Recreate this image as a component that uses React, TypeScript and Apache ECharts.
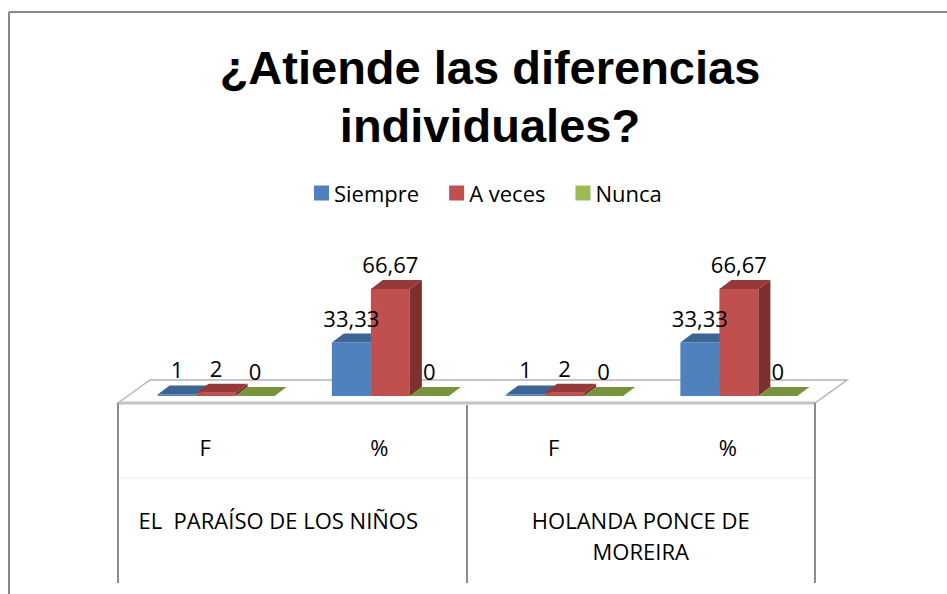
import React, { useEffect, useRef } from "react";
import * as echarts from "echarts";

const titleText = "¿Atiende las diferencias\nindividuales?";
const categories = ["F", "%", "F", "%"];
const groups = ["EL  PARAÍSO DE LOS NIÑOS", "HOLANDA PONCE DE\nMOREIRA"];
const seriesNames = ["Siempre", "A veces", "Nunca"];
const siempre = [1, 33.33, 1, 33.33];
const aVeces = [2, 66.67, 2, 66.67];
const nunca = [0, 0, 0, 0];

const palette = [
  { front: "#4F81BD", top: "#3C6594", side: "#355A86" },
  { front: "#C0504D", top: "#953A38", side: "#7D302E" },
  { front: "#9BBB59", top: "#77933C", side: "#6A8535" },
];

const FONT = "'Open Sans', 'Noto Sans', sans-serif";
const BAR_W = 39;
const DX = 12;
const DY = 9;
const SHIFT = 11;

function fmt(v: number) {
  return String(v).replace(".", ",");
}

export default function App() {
  const ref = useRef<HTMLDivElement>(null);
  useEffect(() => {
    if (!ref.current) return;
    const chart = echarts.init(ref.current, null, { renderer: "svg" });
    const seriesData = [siempre, aVeces, nunca];
    const series = seriesData.map((vals, si) => ({
      type: "custom",
      name: seriesNames[si],
      z: 5,
      clip: false,
      itemStyle: { color: palette[si].front },
      encode: { x: 0, y: 1 },
      data: vals.map((v, i) => [i, v]),
      renderItem: (params: any, api: any) => {
        const cat = api.value(0);
        const val = api.value(1);
        const base = api.coord([cat, 0]);
        const topP = api.coord([cat, val]);
        const c = palette[si];
        const x0 = base[0] + SHIFT - 1.5 * BAR_W + si * BAR_W;
        const x1 = x0 + BAR_W;
        const yb = base[1];
        const yt = topP[1];
        const children: any[] = [];
        if (yb - yt > 0.01) {
          children.push({
            type: "rect",
            z2: si * 3,
            shape: { x: x0, y: yt, width: BAR_W, height: yb - yt },
            style: { fill: c.front },
          });
          children.push({
            type: "polygon",
            z2: si * 3 + 1,
            shape: {
              points: [
                [x1, yb],
                [x1 + DX, yb - DY],
                [x1 + DX, yt - DY],
                [x1, yt],
              ],
            },
            style: { fill: c.side },
          });
        }
        children.push({
          type: "polygon",
          z2: si * 3 + 2,
          shape: {
            points: [
              [x0, yt],
              [x0 + DX, yt - DY],
              [x1 + DX, yt - DY],
              [x1, yt],
            ],
          },
          style: { fill: c.top },
        });
        children.push({
          type: "text",
          z2: 100,
          style: {
            text: fmt(val),
            x: (x0 + x1) / 2,
            y: yt - 25,
            align: "center",
            verticalAlign: "middle",
            fontSize: 22,
            fontFamily: FONT,
            fill: "#000",
          },
        });
        return { type: "group", children };
      },
    }));

    chart.setOption({
      animation: false,
      backgroundColor: "#fff",
      title: {
        text: titleText,
        left: 485,
        top: 33,
        textAlign: "center",
        textStyle: {
          fontSize: 47,
          fontWeight: "bold",
          fontFamily: "'Liberation Sans', Arial, sans-serif",
          lineHeight: 58,
          color: "#000",
        },
      },
      legend: {
        left: 309,
        top: 176,
        icon: "rect",
        itemWidth: 15,
        itemHeight: 15,
        itemGap: 30,
        data: seriesNames,
        textStyle: { fontSize: 22, fontFamily: FONT, color: "#000", lineHeight: 24 },
      },
      grid: { left: 118, right: 132, top: 235.5, bottom: 198 },
      xAxis: [
        {
          type: "category",
          data: categories,
          axisLine: { show: false },
          axisTick: { show: false },
          axisLabel: {
            interval: 0,
            margin: 39,
            fontSize: 22,
            lineHeight: 24,
            fontFamily: FONT,
            color: "#000",
          },
        },
        {
          type: "category",
          position: "bottom",
          data: [
            { value: groups[0], textStyle: { padding: [0, 28, 0, 0] } },
            groups[1],
          ],
          axisLine: { show: false },
          axisTick: { show: false },
          axisLabel: {
            interval: 0,
            margin: 108,
            fontSize: 22,
            lineHeight: 31,
            fontFamily: FONT,
            color: "#000",
          },
        },
      ],
      yAxis: {
        type: "value",
        min: 0,
        max: 100,
        show: false,
      },
      graphic: [
        {
          type: "line",
          z: 0,
          shape: { x1: 9, y1: 12, x2: 947, y2: 12 },
          style: { stroke: "#898989", lineWidth: 2 },
        },
        {
          type: "line",
          z: 0,
          shape: { x1: 9, y1: 12, x2: 9, y2: 594 },
          style: { stroke: "#898989", lineWidth: 2 },
        },
        {
          type: "polygon",
          z: 0,
          shape: {
            points: [
              [118, 403],
              [150, 380],
              [847, 380],
              [815, 403],
            ],
          },
          style: { fill: "#fff", stroke: "#b4b4b4", lineWidth: 1.5 },
        },
        {
          type: "line",
          z: 0,
          shape: { x1: 118, y1: 403, x2: 815, y2: 403 },
          style: { stroke: "#c4c4c4", lineWidth: 3 },
        },
        {
          type: "line",
          z: 0,
          shape: { x1: 118, y1: 478, x2: 815, y2: 478 },
          style: { stroke: "#ececec", lineWidth: 1 },
        },
        {
          type: "line",
          z: 0,
          shape: { x1: 118, y1: 403, x2: 118, y2: 583 },
          style: { stroke: "#8c8c8c", lineWidth: 2 },
        },
        {
          type: "line",
          z: 0,
          shape: { x1: 467, y1: 405, x2: 467, y2: 583 },
          style: { stroke: "#8c8c8c", lineWidth: 2 },
        },
        {
          type: "line",
          z: 0,
          shape: { x1: 815, y1: 403, x2: 815, y2: 583 },
          style: { stroke: "#8c8c8c", lineWidth: 2 },
        },
      ],
      series,
    });
    return () => chart.dispose();
  }, []);
  return (
    <div
      ref={ref}
      style={{ position: "fixed", left: 0, top: 0, width: 947, height: 594 }}
    />
  );
}
